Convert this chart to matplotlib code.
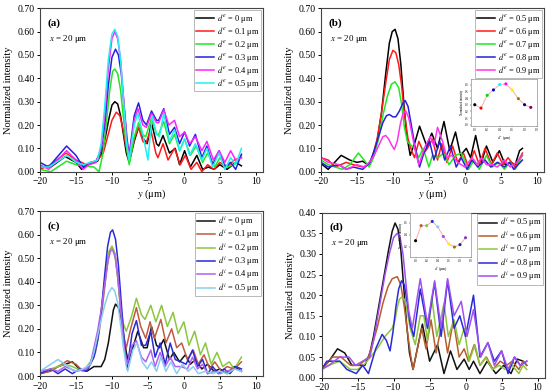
import matplotlib.pyplot as plt

plt.rcParams['font.family'] = ['Liberation Serif', 'DejaVu Serif']
plt.rcParams['mathtext.fontset'] = 'stix'

# ---- (a) d^e = 0 ... 0.5 um : (y, intensity) pairs
a0 = [(-20, .02), (-18.5, .02), (-16.5, .065), (-15, .04), (-14.2, .01), (-13, .04), (-12, .045),
      (-11.4, .08), (-10.9, .15), (-10.4, .23), (-10.0, .285), (-9.6, .30), (-9.2, .29), (-8.8, .24),
      (-8.4, .16), (-8.0, .08), (-7.6, .04), (-6.9, .13),
      (-6.3, .19), (-5.6, .14), (-5.1, .12), (-4.5, .21), (-3.8, .12), (-3.5, .11), (-2.9, .155),
      (-2.0, .08), (-1.2, .10), (-0.6, .03), (0.1, .09), (0.9, .02), (1.8, .07), (2.6, .01),
      (3.4, .02), (4.2, .01), (5.0, .03), (6.0, .01), (7.2, .04), (8.0, .025)]
a1 = [(-20, .01), (-18.5, .03), (-16.4, .08), (-15, .05), (-13.5, .03), (-12, .05), (-11.2, .08),
      (-10.6, .15), (-10.0, .22), (-9.4, .255), (-8.9, .24), (-8.5, .19), (-8.1, .12), (-7.6, .05),
      (-6.9, .14), (-6.3, .19),
      (-5.7, .13), (-5.3, .12), (-4.6, .18), (-3.9, .08), (-3.6, .06), (-2.9, .12), (-2.2, .05),
      (-1.3, .10), (-0.5, .03), (0.2, .07), (1.0, .01), (1.8, .04), (2.5, .0), (3.3, .03),
      (4.2, .01), (5.0, .04), (6.0, .02), (7.0, .05), (8.0, .06)]
a2 = [(-20, .01), (-18.5, .0), (-16.3, .045), (-15, .03), (-14, .025), (-12.5, .02), (-11.8, .0),
      (-11.3, .07), (-10.8, .20), (-10.3, .35), (-9.9, .43), (-9.6, .44), (-9.2, .42), (-8.8, .35),
      (-8.4, .23), (-8.0, .11), (-7.6, .03), (-6.9, .15),
      (-6.3, .21), (-5.8, .16), (-5.3, .15), (-4.5, .23), (-3.8, .16), (-3.5, .16), (-2.8, .215),
      (-2.0, .12), (-1.3, .16), (-0.6, .09), (0.1, .14), (0.9, .07), (1.7, .11), (2.6, .04),
      (3.3, .08), (4.3, .02), (5.0, .06), (6.0, .02), (7.0, .03), (8.0, .07)]
a3 = [(-20, .04), (-18.8, .02), (-16.3, .11), (-15, .07), (-14, .02), (-13.3, .03), (-12.3, .04),
      (-11.5, .09), (-11.0, .20), (-10.5, .37), (-10.0, .49), (-9.5, .525), (-9.1, .50), (-8.7, .42),
      (-8.3, .28), (-7.9, .14), (-7.6, .07), (-6.9, .24),
      (-6.3, .295), (-5.7, .22), (-5.2, .20), (-4.5, .26), (-3.8, .22), (-3.5, .22), (-2.8, .27),
      (-2.0, .16), (-1.3, .19), (-0.6, .12), (0.1, .17), (0.8, .11), (1.6, .16), (2.5, .06),
      (3.2, .11), (4.0, .03), (4.9, .09), (5.7, .02), (6.5, .04), (7.2, .01), (8.0, .075)]
a4 = [(-20, .03), (-18.8, .01), (-16.3, .09), (-15, .05), (-14, .01), (-13.2, .03), (-12.2, .04),
      (-11.5, .10), (-11.0, .24), (-10.5, .44), (-10.0, .57), (-9.6, .60), (-9.2, .57), (-8.8, .48),
      (-8.4, .32), (-8.0, .15), (-7.6, .06), (-6.9, .22),
      (-6.4, .27), (-5.7, .20), (-5.2, .19), (-4.5, .25), (-3.8, .21), (-3.5, .21), (-2.8, .265),
      (-2.1, .20), (-1.3, .22), (-0.6, .15), (0.1, .17), (0.8, .12), (1.6, .15), (2.5, .09),
      (3.2, .13), (4.1, .05), (4.9, .09), (5.7, .04), (6.5, .09), (7.2, .05), (8.0, .06)]
a5 = [(-20, .02), (-18.8, .02), (-16.2, .07), (-15, .04), (-14, .03), (-13, .04), (-12, .05),
      (-11.5, .12), (-11.0, .28), (-10.5, .48), (-10.0, .59), (-9.6, .61), (-9.2, .58), (-8.8, .48),
      (-8.4, .31), (-8.0, .13), (-7.6, .05), (-6.9, .20),
      (-6.4, .25), (-5.7, .16), (-5.0, .05), (-4.4, .24), (-3.8, .16), (-3.4, .15), (-2.8, .25),
      (-2.0, .13), (-1.3, .18), (-0.6, .09), (0.1, .14), (0.8, .07), (1.6, .12), (2.5, .05),
      (3.2, .10), (4.0, .02), (4.9, .08), (5.7, .01), (6.5, .06), (7.2, .03), (8.0, .10)]

# ---- (b) d^e = 0.5 ... 0.9 um
b0 = [(-20, .035), (-19, .01), (-17.2, .07), (-16, .05), (-15, .04), (-14.2, .045), (-13.5, .03),
      (-12.8, .06), (-12.2, .13), (-11.6, .25), (-11.0, .42), (-10.5, .55), (-10.1, .60), (-9.7, .61),
      (-9.3, .57), (-8.9, .46), (-8.5, .30), (-8.1, .16), (-7.6, .07),
      (-6.9, .13), (-6.3, .195), (-5.3, .11), (-4.6, .165), (-3.8, .10), (-2.9, .215), (-2.1, .09),
      (-1.3, .17), (-0.6, .07), (0.2, .10), (0.8, .06), (1.5, .155), (2.3, .04), (3.0, .11),
      (3.9, .04), (4.8, .09), (5.6, .03), (6.4, .04), (7.0, .03), (7.6, .09), (8.0, .10)]
b1 = [(-20, .06), (-19, .05), (-18, .02), (-16.5, .04), (-15.5, .03), (-14.2, .02), (-13.3, .03),
      (-12.8, .07), (-12.2, .14), (-11.6, .25), (-11.0, .38), (-10.5, .48), (-10.0, .52), (-9.6, .51),
      (-9.2, .46), (-8.8, .37), (-8.4, .25), (-7.9, .14), (-7.4, .09), (-7.0, .06),
      (-6.4, .13), (-5.7, .08), (-5.2, .10), (-4.5, .14), (-3.8, .05), (-3.2, .12),
      (-2.5, .04), (-1.7, .11), (-1.0, .04), (-0.2, .08), (0.5, .02), (1.3, .09), (2.0, .03),
      (2.8, .10), (3.7, .03), (4.5, .08), (5.3, .03), (6.0, .06), (7.0, .02), (8.0, .08)]
b2 = [(-20, .05), (-19, .03), (-17, .01), (-16, .03), (-14.8, .08), (-14, .05), (-13.3, .02),
      (-12.7, .06), (-12.0, .14), (-11.4, .24), (-10.8, .32), (-10.2, .375), (-9.7, .385), (-9.2, .36),
      (-8.8, .29), (-8.4, .19), (-8.0, .13), (-7.4, .11),
      (-7.0, .10), (-6.4, .06), (-5.8, .10), (-5.0, .02), (-4.5, .07), (-3.7, .06), (-3.0, .08),
      (-2.2, .03), (-1.3, .07), (-0.5, .08), (0.5, .01), (1.3, .05), (2.0, .01), (3.0, .07),
      (3.8, .02), (4.7, .04), (5.5, .01), (6.2, .04), (7.0, .01), (8.0, .07)]
b3 = [(-20, .04), (-19, .02), (-17.5, .03), (-16.5, .01), (-15.5, .02), (-14.2, .01), (-13.2, .04),
      (-12.6, .09), (-12.0, .15), (-11.4, .21), (-10.9, .24), (-10.5, .245), (-10.0, .235), (-9.6, .235),
      (-9.1, .26), (-8.6, .295), (-8.3, .305), (-7.9, .28), (-7.5, .21), (-7.0, .12), (-6.6, .06),
      (-6.3, .02), (-5.7, .08), (-4.9, .13), (-4.3, .05), (-3.5, .13), (-2.8, .05),
      (-2.0, .11), (-1.2, .02), (-0.5, .06), (0.3, .01), (1.0, .05), (1.8, .02), (2.8, .05),
      (3.6, .02), (4.5, .04), (5.5, .02), (6.2, .04), (6.8, .01), (8.0, .05)]
b4 = [(-20, .06), (-19, .04), (-17.5, .03), (-16.5, .01), (-15, .03), (-14, .02), (-13.3, .04),
      (-12.6, .07), (-12.0, .11), (-11.4, .15), (-11.0, .155), (-10.6, .14), (-10.2, .115), (-9.8, .095),
      (-9.4, .13), (-9.0, .20), (-8.6, .25), (-8.2, .26), (-7.8, .23), (-7.4, .17), (-6.9, .09),
      (-6.4, .03), (-5.5, .11), (-4.8, .15), (-4.3, .11),
      (-3.8, .19), (-3.1, .13), (-2.5, .06), (-1.8, .07), (-1.0, .04), (0.0, .02), (1.0, .06),
      (1.7, .03), (2.3, .06), (3.0, .03), (3.8, .03), (4.5, .02), (5.5, .05), (6.3, .02),
      (7.2, .04), (8.0, .07)]

# ---- (c) d^i = 0 ... 0.5 um
c0 = [(-20, .01), (-18.8, .02), (-17.5, .04), (-15.5, .06), (-14.5, .03), (-13.5, .02), (-12.5, .04),
      (-11.5, .04), (-11.0, .07), (-10.5, .14), (-10.1, .22), (-9.8, .28), (-9.5, .305), (-9.1, .29),
      (-8.7, .24), (-8.3, .16), (-8.0, .10), (-7.7, .06),
      (-7.0, .13), (-6.4, .19), (-5.6, .12), (-5.1, .12), (-4.5, .21), (-3.8, .13), (-3.4, .12),
      (-2.8, .155), (-2.0, .07), (-1.4, .10), (-0.6, .06), (0.2, .09), (0.9, .05), (1.6, .07),
      (2.5, .03), (3.3, .05), (4.2, .02), (5.0, .03), (6.0, .01), (7.0, .04), (8.0, .02)]
c1 = [(-20, .01), (-18.5, .02), (-16.2, .065), (-15, .05), (-14, .02), (-13, .05), (-12.3, .10),
      (-11.8, .18), (-11.3, .30), (-10.8, .43), (-10.4, .52), (-10.0, .55), (-9.6, .52), (-9.2, .42),
      (-8.8, .28), (-8.4, .17), (-8.0, .12), (-7.4, .20),
      (-6.6, .29), (-6.0, .21), (-5.3, .16), (-4.7, .23), (-4.1, .16), (-3.2, .24), (-2.5, .14),
      (-1.7, .20), (-1.0, .12), (-0.3, .14), (0.5, .07), (1.3, .11), (2.0, .05), (2.8, .09),
      (3.6, .03), (4.3, .06), (5.2, .02), (6.0, .04), (7.0, .03), (8.0, .06)]
c2 = [(-20, .01), (-18.5, .03), (-16.5, .05), (-15.5, .04), (-14, .02), (-13, .06), (-12.2, .12),
      (-11.7, .22), (-11.2, .35), (-10.8, .46), (-10.4, .53), (-10.0, .55), (-9.6, .52), (-9.2, .42),
      (-8.8, .30), (-8.4, .22), (-8.0, .19), (-7.3, .25),
      (-6.6, .33), (-5.9, .26), (-5.4, .24), (-4.6, .30), (-3.9, .23), (-3.1, .30), (-2.3, .21),
      (-1.5, .27), (-0.8, .18), (0.0, .23), (0.7, .13), (1.5, .19), (2.3, .09), (3.0, .14),
      (3.8, .05), (4.6, .10), (5.4, .04), (6.3, .06), (7.0, .03), (8.0, .08)]
c3 = [(-20, .01), (-18.5, .03), (-17.5, .01), (-16.5, .03), (-15.5, .01), (-14.5, .03), (-13.5, .02),
      (-12.5, .08), (-12.0, .15), (-11.5, .27), (-11.0, .43), (-10.6, .55), (-10.2, .61), (-9.9, .62),
      (-9.5, .58), (-9.1, .47), (-8.7, .31), (-8.3, .15), (-7.9, .03),
      (-7.2, .18), (-6.6, .235), (-5.9, .13), (-5.3, .13), (-4.6, .19), (-4.0, .08), (-3.3, .14),
      (-2.6, .05), (-1.9, .14), (-1.2, .07), (-0.4, .06), (0.3, .05), (1.2, .11), (1.9, .04),
      (2.6, .07), (3.3, .01), (4.0, .04), (4.8, .01), (5.6, .03), (6.4, .01), (7.2, .04), (8.0, .03)]
c4 = [(-20, .02), (-18.5, .03), (-17.5, .02), (-16.5, .04), (-15, .02), (-13.5, .03), (-13.0, .05),
      (-12.5, .12), (-12.0, .19), (-11.5, .28), (-11.0, .39), (-10.6, .48), (-10.2, .53), (-9.9, .535),
      (-9.5, .50), (-9.1, .40), (-8.7, .26), (-8.3, .12), (-7.9, .05),
      (-7.2, .13), (-6.6, .15), (-5.9, .08), (-5.3, .06), (-4.6, .11), (-4.0, .04), (-3.3, .10),
      (-2.6, .04), (-1.9, .08), (-1.2, .04), (-0.4, .04), (0.5, .03), (1.2, .08), (1.9, .03),
      (2.6, .05), (3.3, .01), (4.2, .02), (5.0, .01), (5.8, .02), (7.2, .03), (8.0, .02)]
c5 = [(-20, .02), (-18.5, .05), (-17.5, .07), (-16.5, .05), (-15.3, .02), (-14, .03), (-13, .05),
      (-12.5, .10), (-12.0, .17), (-11.5, .24), (-11.0, .30), (-10.5, .35), (-10.0, .375), (-9.6, .36),
      (-9.2, .31), (-8.8, .22), (-8.4, .12), (-8.0, .04), (-7.8, .02),
      (-7.1, .11), (-6.5, .14), (-5.8, .06), (-5.1, .03), (-4.5, .06), (-3.8, .02), (-3.2, .08),
      (-2.5, .02), (-1.8, .06), (-1.0, .01), (-0.2, .05), (0.6, .02), (1.3, .04), (2.0, .01),
      (3.0, .02), (4.0, .01), (5.0, .02), (6.0, .01), (7.0, .03), (8.0, .02)]

# ---- (d) d^i = 0.5 ... 0.9 um
d0 = [(-20, .02), (-19, .04), (-17.8, .07), (-16.8, .06), (-15.8, .03), (-14.8, .03), (-14, .03),
      (-13.3, .06), (-12.8, .10), (-12.3, .15), (-11.7, .21), (-11.2, .26), (-10.7, .31), (-10.2, .355),
      (-9.8, .375), (-9.4, .36), (-9.0, .31), (-8.6, .22), (-8.2, .13), (-7.8, .06), (-7.3, .02),
      (-6.0, .13), (-5.0, .04), (-3.9, .08), (-3.0, .01), (-2.1, .065),
      (-1.2, .02), (-0.2, .045), (0.5, .02), (1.1, .04), (2.0, .01), (3.0, .04), (4.2, .01),
      (5.3, .03), (6.3, .01), (7.2, .045), (8.0, .04), (8.5, .03)]
d1 = [(-20, .02), (-18.5, .05), (-17.3, .05), (-16, .03), (-14.8, .03), (-13.5, .05), (-12.8, .09),
      (-12.3, .12), (-11.5, .18), (-10.8, .22), (-10.2, .24), (-9.5, .245), (-9.0, .225), (-8.5, .17),
      (-8.0, .10), (-7.6, .05), (-7.3, .02), (-6.7, .07),
      (-6.1, .12), (-5.5, .07), (-4.8, .14), (-4.1, .06), (-3.2, .14), (-2.5, .06), (-1.7, .14),
      (-0.9, .05), (-0.2, .07), (0.4, .04), (1.2, .08), (2.0, .03), (2.9, .05), (3.8, .02),
      (4.8, .04), (5.7, .03), (6.5, .04), (7.4, .02), (8.0, .04), (8.5, .03)]
d2 = [(-20, .02), (-19, .03), (-17.5, .04), (-16, .02), (-15, .02), (-14.2, .03), (-13.2, .05),
      (-12.3, .07), (-11.2, .10), (-10.2, .12), (-9.8, .14), (-9.5, .17), (-9.2, .19), (-8.9, .195),
      (-8.5, .19), (-8.2, .17), (-7.7, .12),
      (-7.0, .08), (-6.3, .15), (-5.8, .15), (-5.3, .09), (-4.7, .195), (-4.0, .10), (-3.0, .18),
      (-2.4, .10), (-1.6, .14), (-0.9, .08), (-0.2, .12), (0.5, .04), (1.3, .08), (2.0, .03),
      (2.8, .05), (3.7, .02), (4.7, .03), (5.5, .02), (6.5, .03), (7.4, .01), (8.0, .03), (8.5, .02)]
d3 = [(-20, .02), (-19.3, .04), (-17.5, .04), (-16.5, .02), (-15.2, .01), (-14.3, .03), (-13.5, .01),
      (-12.5, .07), (-11.6, .105), (-11.0, .09), (-10.5, .065), (-10.1, .11), (-9.7, .17), (-9.3, .215),
      (-8.9, .235), (-8.5, .225), (-8.1, .18), (-7.7, .13), (-7.2, .10),
      (-6.3, .215), (-5.3, .12), (-4.3, .23), (-3.4, .10), (-2.5, .235),
      (-1.6, .12), (-0.8, .15), (0.0, .10), (1.1, .20), (2.0, .05), (3.1, .085), (4.0, .04),
      (5.0, .065), (5.9, .01), (6.8, .05), (7.6, .03), (8.5, .04)]
d4 = [(-20, .02), (-19, .03), (-17.5, .05), (-16.2, .05), (-15.3, .03), (-14.3, .04), (-13.3, .05),
      (-12.8, .09), (-12.3, .14), (-11.7, .20), (-11.2, .25), (-10.6, .30), (-10.0, .34), (-9.5, .35),
      (-9.1, .34), (-8.7, .30), (-8.3, .23), (-7.9, .16), (-7.4, .12),
      (-6.3, .24), (-5.3, .13), (-4.3, .235), (-3.4, .12), (-2.5, .24), (-1.6, .15), (-0.6, .185),
      (0.2, .10), (1.1, .165), (2.1, .05), (3.1, .085), (4.0, .03), (5.0, .065), (5.9, .02),
      (6.8, .05), (7.6, .03), (8.5, .04)]

# ---- insets: peak intensity vs thickness
inset_b_d = [0.0, 0.1, 0.2, 0.3, 0.4, 0.5, 0.6, 0.7, 0.8, 0.9]
inset_b_peak = [0.30, 0.25, 0.44, 0.52, 0.60, 0.61, 0.52, 0.39, 0.30, 0.26]
inset_d_d = [0.0, 0.1, 0.2, 0.3, 0.4, 0.5, 0.6, 0.7, 0.8, 0.9]
inset_d_peak = [0.30, 0.55, 0.55, 0.62, 0.53, 0.37, 0.245, 0.195, 0.235, 0.35]

labels_a = ['0', '0.1', '0.2', '0.3', '0.4', '0.5']
labels_b = ['0.5', '0.6', '0.7', '0.8', '0.9']
labels_c = labels_a
labels_d = labels_b

col_ab = ['#000000', '#ff1a1a', '#22e622', '#2222dd', '#ff22ff', '#22f0f0']
col_b = ['#000000', '#ff1a1a', '#22e622', '#2222dd', '#ff33ee']
col_c = ['#111111', '#c05a40', '#8cc63f', '#2a2ad8', '#b060f0', '#88ccf4']
col_d = ['#111111', '#b85c30', '#8cc63f', '#2a2ad8', '#a050ee']
dots_b = ['black', 'red', '#00dd00', '#0000cc', 'cyan', 'magenta', '#ffee00', '#888000', '#000080', '#800080']
dots_d = ['black', '#b85c30', '#8cc63f', '#2a2ad8', '#88ccf4', '#a050ee', '#ffee00', '#888000', '#202080', '#8040c0']


def panel(ax, series, colors, labels, sup, ymax, ystep, tag, xlab=True):
    for pts, c, lab in zip(series, colors, labels):
        xs, ys = zip(*pts)
        ax.plot(xs, ys, color=c, lw=1.1, label=r'$d^{%s}$ = %s μm' % (sup, lab))
    ax.set_xlim(-20, 11)
    ax.set_ylim(0, ymax)
    ax.set_xticks([-20, -15, -10, -5, 0, 5, 10])
    ax.set_xticklabels(['\u221220', '\u221215', '\u221210', '\u22125', '0', '5', '10'])
    n = int(round(ymax / ystep))
    ax.set_yticks([i * ystep for i in range(n + 1)])
    ax.yaxis.set_major_formatter(plt.FormatStrFormatter('%.2f'))
    ax.tick_params(direction='out', length=2.5, width=0.7, labelsize=7, pad=1.5)
    for s in ax.spines.values():
        s.set_linewidth(0.8)
        s.set_color('#444444')
    ax.set_ylabel('Normalized intensity', fontsize=7.5, labelpad=3)
    if xlab:
        ax.set_xlabel(r'$y$ (μm)', fontsize=7.5, labelpad=1)
    ax.text(0.035, 0.91, '(%s)' % tag, transform=ax.transAxes, fontsize=8, fontweight='bold', va='center')
    ax.text(0.04, 0.815, r'$x$ = 20 μm', transform=ax.transAxes, fontsize=6.5, va='center')
    leg = ax.legend(loc='upper right', fontsize=6.0, frameon=True, fancybox=False, edgecolor='#999999',
                    handlelength=2.2, handletextpad=0.3, labelspacing=0.0, borderpad=0.2,
                    borderaxespad=0.2)
    leg.get_frame().set_linewidth(0.6)


def inset(fig, rect, xs, ys, cols, sup, xlim, ylim):
    ia = fig.add_axes(rect)
    ia.plot(xs, ys, color='#f4a0a0', lw=0.6, zorder=1)
    ia.scatter(xs, ys, c=cols, s=5, zorder=2, linewidths=0)
    ia.set_xlim(*xlim)
    ia.set_ylim(*ylim)
    ia.set_xticks([0.0, 0.2, 0.4, 0.6, 0.8, 1.0])
    ia.tick_params(labelsize=2.2, length=1, width=0.3, pad=0.5)
    ia.set_xlabel(r'$d^{%s}$ (μm)' % sup, fontsize=2.8, labelpad=0.5)
    ia.set_ylabel('Normalized intensity', fontsize=2.2, labelpad=0.5)
    for s in ia.spines.values():
        s.set_linewidth(0.4)
        s.set_color('#777777')


fig = plt.figure(figsize=(5.5, 3.92), dpi=100)
ax_a = fig.add_axes([0.0727, 0.562, 0.4055, 0.4168])
ax_b = fig.add_axes([0.5836, 0.562, 0.4055, 0.4168])
ax_c = fig.add_axes([0.0727, 0.0408, 0.4055, 0.4209])
ax_d = fig.add_axes([0.5849, 0.0365, 0.4055, 0.4209])

panel(ax_a, [a0, a1, a2, a3, a4, a5], col_ab, labels_a, 'e', 0.70, 0.10, 'a')
panel(ax_b, [b0, b1, b2, b3, b4], col_b, labels_b, 'e', 0.70, 0.10, 'b')
panel(ax_c, [c0, c1, c2, c3, c4, c5], col_c, labels_c, 'i', 0.70, 0.10, 'c', xlab=False)
panel(ax_d, [d0, d1, d2, d3, d4], col_d, labels_d, 'i', 0.40, 0.05, 'd', xlab=False)

inset(fig, [0.8564, 0.678, 0.12, 0.12], inset_b_d, inset_b_peak, dots_b, 'e', (-0.06, 0.98), (-0.02, 0.68))
inset(fig, [0.7455, 0.3444, 0.111, 0.1122], inset_d_d, inset_d_peak, dots_d, 'i', (-0.1, 1.0), (0.03, 0.76))

fig.savefig('out.png', dpi=100)
